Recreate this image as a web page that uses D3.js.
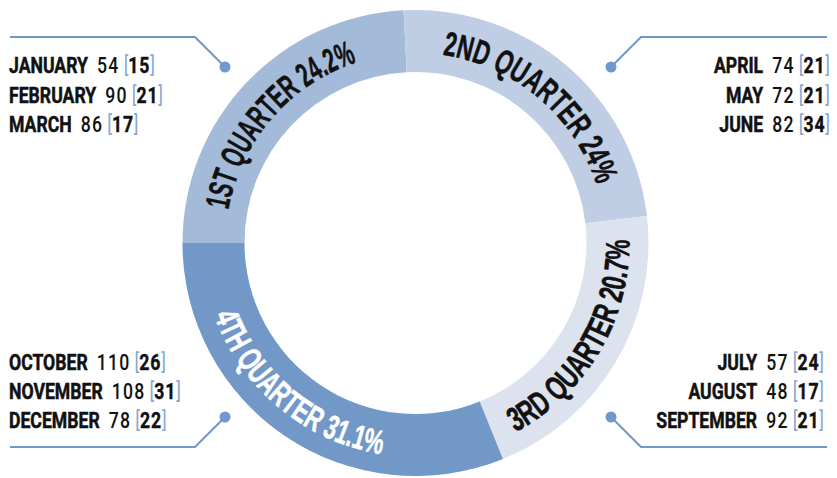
<!DOCTYPE html>
<html><head><meta charset="utf-8">
<script src="https://cdn.jsdelivr.net/npm/d3@7"></script>
<style>
html,body{margin:0;padding:0;background:#fff;}
svg{display:block;}
</style></head>
<body>
<svg id="chart" width="837" height="478"></svg>
<script>
const months = ["JANUARY","FEBRUARY","MARCH","APRIL","MAY","JUNE","JULY","AUGUST","SEPTEMBER","OCTOBER","NOVEMBER","DECEMBER"];
const monthValues = [54,90,86,74,72,82,57,48,92,110,108,78];
const monthBracket = [15,21,17,21,21,34,24,17,21,26,31,22];
const quarters = ["1ST QUARTER","2ND QUARTER","3RD QUARTER","4TH QUARTER"];
const quarterColors = ["#a4bad9","#bfcee4","#dce3ef","#7198c7"];
const quarterTextColors = ["#111","#111","#111","#fff"];

const W = 837, H = 478;
const cx = 415.5, cy = 243;
const rOuter = 233, rInner = 171;
const lineColor = "#7098c9";
const bracketColor = "#86a7d3";

const svg = d3.select("#chart");
const qTotals = quarters.map((q,i)=>d3.sum(monthValues.slice(i*3,i*3+3)));
const total = d3.sum(qTotals);
const pct = qTotals.map(v=>+(v/total*100).toFixed(1));

const pie = d3.pie().sort(null).value(d=>d).startAngle(-Math.PI/2).endAngle(3*Math.PI/2);
const arcs = pie(qTotals);
const arcGen = d3.arc().innerRadius(rInner).outerRadius(rOuter);

const g = svg.append("g").attr("transform",`translate(${cx},${cy})`);
g.selectAll("path.slice").data(arcs).join("path")
  .attr("class","slice")
  .attr("d",arcGen)
  .attr("fill",(d,i)=>quarterColors[i]);

// curved labels
const defs = svg.append("defs");
function pt(a,r){return [r*Math.sin(a), -r*Math.cos(a)];}
const rbUpper = 190, rbLower = 214;
arcs.forEach((d,i)=>{
  const mid = (d.startAngle+d.endAngle)/2;
  const upper = Math.cos(mid) > 0;
  let p;
  if (upper){
    const [x0,y0]=pt(d.startAngle,rbUpper),[x1,y1]=pt(d.endAngle,rbUpper);
    p = `M${x0},${y0}A${rbUpper},${rbUpper} 0 0 1 ${x1},${y1}`;
  } else {
    const [x0,y0]=pt(d.endAngle,rbLower),[x1,y1]=pt(d.startAngle,rbLower);
    p = `M${x0},${y0}A${rbLower},${rbLower} 0 0 0 ${x1},${y1}`;
  }
  defs.append("path").attr("id","qp"+i).attr("d",p).attr("transform",`translate(${cx},${cy})`);
});
const spanDeg = [62,64,63,61];
const offsets = ["47.1%","50%","50%","44.9%"];
arcs.forEach((d,i)=>{
  const upper = Math.cos((d.startAngle+d.endAngle)/2) > 0;
  const r = upper? rbUpper : rbLower;
  svg.append("text")
    .attr("font-family","'Liberation Sans',Arial,sans-serif")
    .attr("font-weight","bold")
    .attr("font-size",34)
    .attr("fill",quarterTextColors[i])
    .attr("stroke",quarterTextColors[i])
    .attr("stroke-width",0.5)
    .append("textPath")
    .attr("href","#qp"+i)
    .attr("startOffset",offsets[i])
    .attr("text-anchor","middle")
    .attr("textLength", spanDeg[i]*Math.PI/180*r)
    .attr("lengthAdjust","spacingAndGlyphs")
    .text(quarters[i]+" "+pct[i]+"%");
});

// leader lines
const leaders = [
  [[10,37],[195,37],[225,67]],
  [[827,37],[641,37],[611,67]],
  [[827,447],[641,447],[611,417]],
  [[10,447],[195,447],[225,417]]
];
leaders.forEach(l=>{
  svg.append("path").attr("d",d3.line()(l)).attr("fill","none").attr("stroke",lineColor).attr("stroke-width",2);
  svg.append("circle").attr("cx",l[2][0]).attr("cy",l[2][1]).attr("r",5.5).attr("fill",lineColor);
});

// month labels
const blocks = [
  {q:0, x:9, y:73.3, anchor:"start"},
  {q:1, x:830, y:73.3, anchor:"end"},
  {q:2, x:824, y:369.5, anchor:"end"},
  {q:3, x:9, y:369.5, anchor:"start"}
];
const sx = 0.82, lineH = 29.3;
blocks.forEach(b=>{
  for(let k=0;k<3;k++){
    const m = b.q*3+k;
    const t = svg.append("text")
      .attr("transform",`translate(${b.x},${b.y+k*lineH}) scale(${sx},1)`)
      .attr("text-anchor",b.anchor)
      .attr("font-family","Roboto,'Liberation Sans',Arial,sans-serif")
      .attr("font-size",21.5)
      .attr("fill","#111");
    t.append("tspan").attr("font-weight","bold").attr("stroke","#111").attr("stroke-width",0.5).text(months[m]);
    t.append("tspan").attr("dx",11).attr("font-weight",500).attr("letter-spacing",1.5).text(monthValues[m]);
    t.append("tspan").attr("dx",5).attr("fill",bracketColor).attr("font-weight",400).text("[");
    t.append("tspan").attr("font-weight","bold").attr("letter-spacing",1).attr("stroke","#111").attr("stroke-width",0.4).text(monthBracket[m]);
    t.append("tspan").attr("fill",bracketColor).attr("font-weight",400).text("]");
  }
});
</script>
</body></html>
